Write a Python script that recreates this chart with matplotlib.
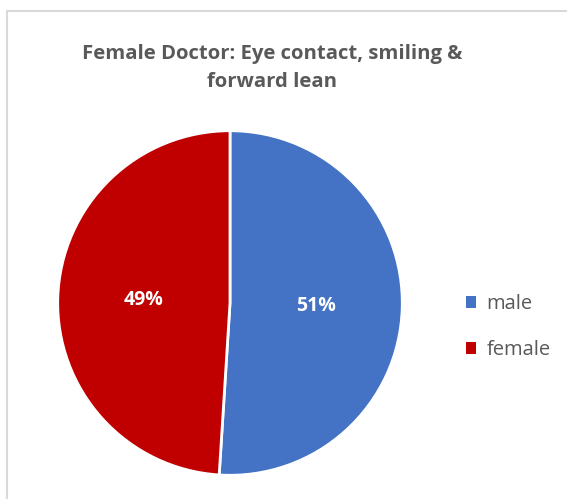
import matplotlib
matplotlib.use('Agg')
import matplotlib.pyplot as plt
from matplotlib.patches import Rectangle

labels = ['male', 'female']
shares = [51, 49]
colors = ['#4472C4', '#C00000']
title = 'Female Doctor: Eye contact, smiling &\nforward lean'

W, H = 567, 499
fig = plt.figure(figsize=(W / 100, H / 100), dpi=100)

# chart area border (light gray, cut off at right/bottom)
fig.patches.append(Rectangle((7 / W, -0.1), 1.2, (H - 11) / H + 0.1,
                             transform=fig.transFigure, fill=False,
                             edgecolor='#D9D9D9', linewidth=1.5))

cx, cy, r = 230, H - 303, 174
ax = fig.add_axes([(cx - r) / W, (cy - r) / H, 2 * r / W, 2 * r / H])
wedges, _, autotexts = ax.pie(shares, colors=colors, startangle=90, counterclock=False,
                              autopct='%d%%', pctdistance=0.5, labeldistance=None,
                              wedgeprops=dict(edgecolor='white', linewidth=2),
                              textprops=dict(color='white', fontsize=14, fontweight='bold',
                                             family='Open Sans'))
ax.set_xlim(-1.01, 1.01)
ax.set_ylim(-1.01, 1.01)
ax.set_aspect('equal')
ax.axis('off')

fig.text(272 / W, 1 - 68 / H, title, ha='center', va='center', fontsize=14.6,
         fontweight='bold', color='#595959', family='Open Sans', linespacing=1.5)

leg = fig.legend(wedges, labels, loc='center left', bbox_to_anchor=(448 / W, 1 - 327 / H),
                 frameon=False, handlelength=0.5, handleheight=0.5, handletextpad=0.5,
                 labelspacing=1.3, prop=dict(family='Open Sans', size=14.5))
for t in leg.get_texts():
    t.set_color('#595959')
for h in leg.legend_handles:
    h.set_edgecolor('none')

fig.savefig('out.png', dpi=100)
